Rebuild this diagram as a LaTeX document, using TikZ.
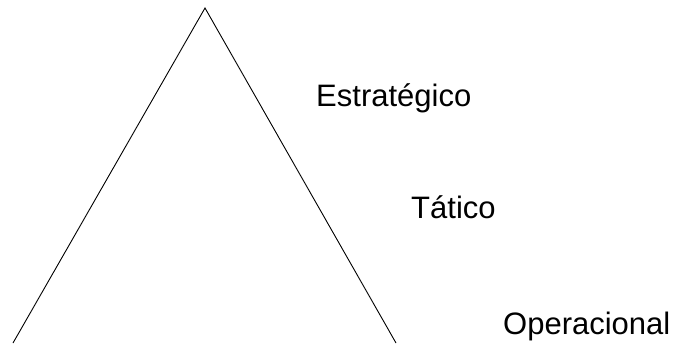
\documentclass[tikz,border=0pt]{standalone}
\usepackage{fontspec}
\setmainfont{Liberation Sans}
\begin{document}
\begin{tikzpicture}[x=1pt,y=-1pt,
    nivel/.style={anchor=base west,inner sep=0pt,font=\fontsize{31}{36}\selectfont}]
    \useasboundingbox (0,0) rectangle (679,343);

    % piramide
    \coordinate (topo) at (205,8);
    \coordinate (baseE) at (13,343);
    \coordinate (baseD) at (396,343);
    \draw[line width=0.9pt] (baseE)--(topo)--(baseD);

    \node[nivel] (estrategico) at (316,106) {Estratégico};
    \node[nivel] (tatico) at (411,218) {Tático};
    \node[nivel] (operacional) at (503,334) {Operacional};

  \end{tikzpicture}
\end{document}
